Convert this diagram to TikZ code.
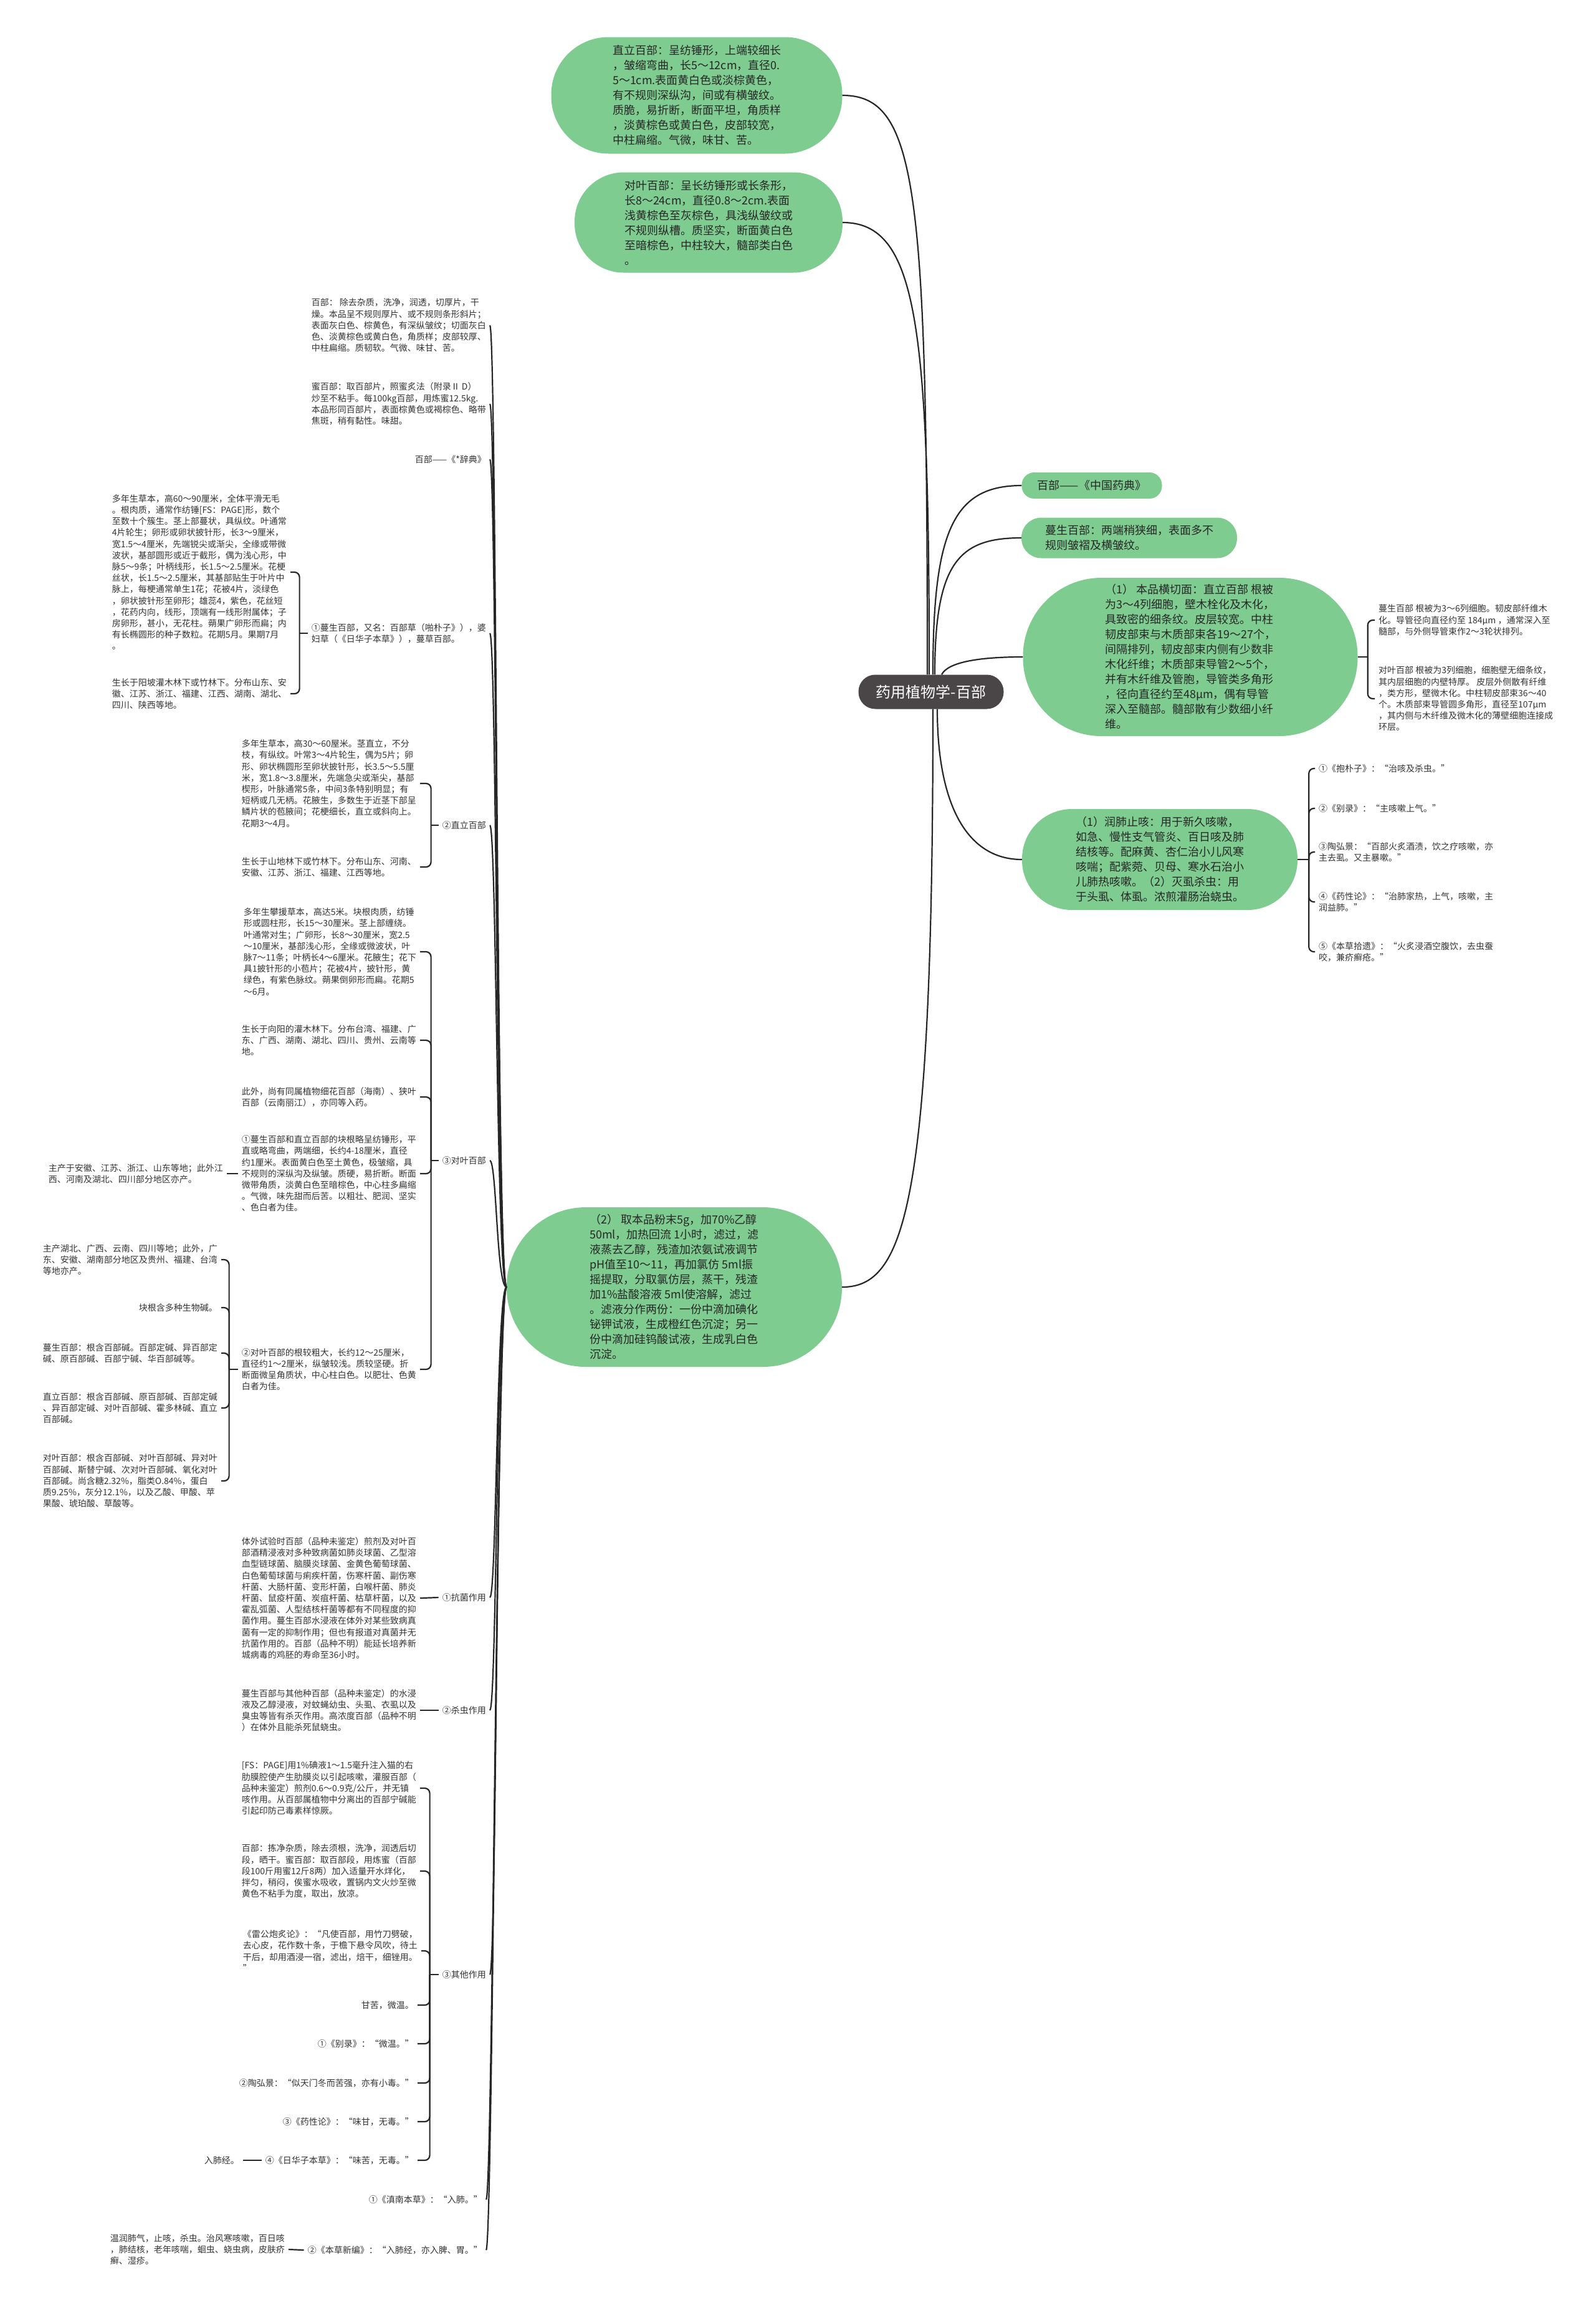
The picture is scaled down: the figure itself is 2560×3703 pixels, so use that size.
\documentclass[tikz,border=0pt]{standalone}
\usepackage{fontspec}
\setmainfont{Noto Sans CJK SC}
\usepackage{tikz}

\definecolor{pillgreen}{HTML}{7FCC91}
\definecolor{rootgray}{HTML}{4A4546}
\definecolor{ink}{HTML}{333333}

\begin{document}
\begin{tikzpicture}[x=1pt, y=-1pt,
    pill/.style={fill=pillgreen, text=black!85, font=\fontsize{18}{24}\selectfont, align=left, inner sep=0pt},
    leaf/.style={text=ink, font=\fontsize{14}{18.2}\selectfont, align=left, inner xsep=6pt, inner ysep=0pt},
    conn/.style={draw=black!85, line width=2.2pt},
    bracketline/.style={conn, rounded corners=8pt}]

    \path[use as bounding box, fill=white] (0,0) rectangle (2560,3703);

    % Root
    \node[fill=rootgray, text=white, font=\fontsize{24}{28}\selectfont, minimum width=233pt,
        minimum height=55pt, rounded corners=27pt, inner sep=0pt] (yaobu) at (1494,1110) {药用植物学-百部};

    % Green branches
    \node[pill, minimum width=467pt, minimum height=187pt, rounded corners=92pt] (zhili) at (1118,153)
        {直立百部：呈纺锤形，上端较细长\\，皱缩弯曲，长5～12cm，直径0.\\5～1cm.表面黄白色或淡棕黄色，\\有不规则深纵沟，间或有横皱纹。\\质脆，易折断，断面平坦，角质样\\，淡黄棕色或黄白色，皮部较宽，\\中柱扁缩。气微，味甘、苦。};
    \node[pill, minimum width=430pt, minimum height=161pt, rounded corners=79pt] (duiye) at (1137,357)
        {对叶百部：呈长纺锤形或长条形，\\长8～24cm，直径0.8～2cm.表面\\浅黄棕色至灰棕色，具浅纵皱纹或\\不规则纵槽。质坚实，断面黄白色\\至暗棕色，中柱较大，髓部类白色\\。};
    \node[pill, minimum width=225pt, minimum height=42pt, rounded corners=20pt] (yaodian) at (1752,779)
        {百部——《中国药典》};
    \node[pill, minimum width=346pt, minimum height=65pt, rounded corners=32pt] (mansheng) at (1812,863)
        {蔓生百部：两端稍狭细，表面多不\\规则皱褶及横皱纹。};
    \node[pill, minimum width=537pt, minimum height=254pt, rounded corners=126pt] (hengqie) at (1910,1054)
        {（1） 本品横切面：直立百部 根被\\为3～4列细胞，壁木栓化及木化，\\具致密的细条纹。皮层较宽。中柱\\韧皮部束与木质部束各19～27个，\\间隔排列，韧皮部束内侧有少数非\\木化纤维；木质部束导管2～5个，\\并有木纤维及管胞，导管类多角形\\，径向直径约至48μm，偶有导管\\深入至髓部。髓部散有少数细小纤\\维。};
    \node[pill, minimum width=442pt, minimum height=162pt, rounded corners=80pt] (gongxiao) at (1861,1379)
        {（1）润肺止咳：用于新久咳嗽，\\如急、慢性支气管炎、百日咳及肺\\结核等。配麻黄、杏仁治小儿风寒\\咳喘；配紫菀、贝母、寒水石治小\\儿肺热咳嗽。（2）灭虱杀虫：用\\于头虱、体虱。浓煎灌肠治蛲虫。};
    \node[pill, minimum width=538pt, minimum height=256pt, rounded corners=127pt] (jianbie) at (1082,2065)
        {（2） 取本品粉末5g，加70\%乙醇\\50ml，加热回流 1小时，滤过，滤\\液蒸去乙醇，残渣加浓氨试液调节\\pH值至10～11，再加氯仿 5ml振\\摇提取，分取氯仿层，蒸干，残渣\\加1\%盐酸溶液 5ml使溶解，滤过\\。滤液分作两份：一份中滴加碘化\\铋钾试液，生成橙红色沉淀；另一\\份中滴加硅钨酸试液，生成乳白色\\沉淀。};

    % Right leaves
    \node[leaf, anchor=west] (heng1) at (2206,995)
        {蔓生百部 根被为3～6列细胞。韧皮部纤维木\\化。导管径向直径约至 184μm ，通常深入至\\髓部，与外侧导管束作2～3轮状排列。};
    \node[leaf, anchor=west] (heng2) at (2206,1121)
        {对叶百部 根被为3列细胞，细胞壁无细条纹，\\其内层细胞的内壁特厚。 皮层外侧散有纤维\\，类方形，壁微木化。中柱韧皮部束36～40\\个。木质部束导管圆多角形，直径至107μm\\，其内侧与木纤维及微木化的薄壁细胞连接成\\环层。};
    \node[leaf, anchor=west] (gong1) at (2110,1233) {①《抱朴子》：“治咳及杀虫。”};
    \node[leaf, anchor=west] (gong2) at (2110,1297) {②《别录》：“主咳嗽上气。”};
    \node[leaf, anchor=west] (gong3) at (2110,1367) {③陶弘景：“百部火炙酒渍，饮之疗咳嗽，亦\\主去虱。又主暴嗽。”};
    \node[leaf, anchor=west] (gong4) at (2110,1447) {④《药性论》：“治肺家热，上气，咳嗽，主\\润益肺。”};
    \node[leaf, anchor=west] (gong5) at (2110,1527) {⑤《本草拾遗》：“火炙浸酒空腹饮，去虫蚕\\咬，兼疥癣疮。”};

    % Left leaves
    \node[leaf, anchor=east] (yinpian) at (786,522)
        {百部： 除去杂质，洗净，润透，切厚片，干\\燥。本品呈不规则厚片、或不规则条形斜片；\\表面灰白色、棕黄色，有深纵皱纹；切面灰白\\色、淡黄棕色或黄白色，角质样；皮部较厚、\\中柱扁缩。质韧软。气微、味甘、苦。};
    \node[leaf, anchor=east] (mibaibu) at (786,648)
        {蜜百部：取百部片，照蜜炙法（附录Ⅱ D）\\炒至不粘手。每100kg百部，用炼蜜12.5kg.\\本品形同百部片，表面棕黄色或褐棕色、略带\\焦斑，稍有黏性。味甜。};
    \node[leaf, anchor=east] (cidian) at (786,737) {百部——《*辞典》};

    \node[leaf, anchor=east] (man) at (786,1016)
        {①蔓生百部，又名：百部草（啪朴子》），婆\\妇草（《日华子本草》），蔓草百部。};
    \node[leaf, anchor=east] (man1) at (466,918)
        {多年生草本，高60～90厘米，全体平滑无毛\\。根肉质，通常作纺锤[FS：PAGE]形，数个\\至数十个簇生。茎上部蔓状，具纵纹。叶通常\\4片轮生；卵形或卵状披针形，长3～9厘米，\\宽1.5～4厘米，先端锐尖或渐尖，全缘或带微\\波状，基部圆形或近于截形，偶为浅心形，中\\脉5～9条；叶柄线形，长1.5～2.5厘米。花梗\\丝状，长1.5～2.5厘米，其基部贴生于叶片中\\脉上，每梗通常单生1花；花被4片，淡绿色\\，卵状披针形至卵形；雄蕊4，紫色，花丝短\\，花药内向，线形，顶端有一线形附属体；子\\房卵形，甚小，无花柱。蒴果广卵形而扁；内\\有长椭圆形的种子数粒。花期5月。果期7月\\。};
    \node[leaf, anchor=east] (man2) at (466,1113)
        {生长于阳坡灌木林下或竹林下。分布山东、安\\徽、江苏、浙江、福建、江西、湖南、湖北、\\四川、陕西等地。};

    \node[leaf, anchor=east] (zhi) at (786,1324) {②直立百部};
    \node[leaf, anchor=east] (zhi1) at (674,1257)
        {多年生草本，高30～60屋米。茎直立，不分\\枝，有纵纹。叶常3～4片轮生，偶为5片；卵\\形、卵状椭圆形至卵状披针形，长3.5～5.5厘\\米，宽1.8～3.8厘米，先端急尖或渐尖，基部\\楔形，叶脉通常5条，中间3条特别明显；有\\短柄或几无柄。花腋生，多数生于近茎下部呈\\鳞片状的苞腋间；花梗细长，直立或斜向上。\\花期3～4月。};
    \node[leaf, anchor=east] (zhi2) at (674,1391)
        {生长于山地林下或竹林下。分布山东、河南、\\安徽、江苏、浙江、福建、江西等地。};

    \node[leaf, anchor=east] (dui) at (786,1862) {③对叶百部};
    \node[leaf, anchor=east] (dui1) at (674,1527)
        {多年生攀援草本，高达5米。块根肉质，纺锤\\形或圆柱形，长15～30厘米。茎上部缠绕。\\叶通常对生；广卵形，长8～30厘米，宽2.5\\～10厘米，基部浅心形，全缘或微波状，叶\\脉7～11条；叶柄长4～6厘米。花腋生；花下\\具1披针形的小苞片；花被4片，披针形，黄\\绿色，有紫色脉纹。蒴果倒卵形而扁。花期5\\～6月。};
    \node[leaf, anchor=east] (dui2) at (674,1669)
        {生长于向阳的灌木林下。分布台湾、福建、广\\东、广西、湖南、湖北、四川、贵州、云南等\\地。};
    \node[leaf, anchor=east] (dui3) at (674,1760)
        {此外，尚有同属植物细花百部（海南）、狭叶\\百部（云南丽江），亦同等入药。};
    \node[leaf, anchor=east] (dui4) at (674,1883)
        {①蔓生百部和直立百部的块根略呈纺锤形，平\\直或略弯曲，两端细，长约4-18厘米，直径\\约1厘米。表面黄白色至土黄色，极皱缩，具\\不规则的深纵沟及纵皱。质硬，易折断。断面\\微带角质，淡黄白色至暗棕色，中心柱多扁缩\\。气微，味先甜而后苦。以粗壮、肥润、坚实\\、色白者为佳。};
    \node[leaf, anchor=east] (chandi) at (364,1883)
        {主产于安徽、江苏、浙江、山东等地；此外江\\西、河南及湖北、四川部分地区亦产。};
    \node[leaf, anchor=east] (dui5) at (674,2197)
        {②对叶百部的根较粗大，长约12～25厘米，\\直径约1～2厘米，纵皱较浅。质较坚硬。折\\断面微呈角质状，中心柱白色。以肥壮、色黄\\白者为佳。};
    \node[leaf, anchor=east] (dui5a) at (355,2021)
        {主产湖北、广西、云南、四川等地；此外，广\\东、安徽、湖南部分地区及贵州、福建、台湾\\等地亦产。};
    \node[leaf, anchor=east] (dui5b) at (355,2098) {块根含多种生物碱。};
    \node[leaf, anchor=east] (dui5c) at (355,2171)
        {蔓生百部：根含百部碱。百部定碱、异百部定\\碱、原百部碱、百部宁碱、华百部碱等。};
    \node[leaf, anchor=east] (dui5d) at (355,2259)
        {直立百部：根含百部碱、原百部碱、百部定碱\\、异百部定碱、对叶百部碱、霍多林碱、直立\\百部碱。};
    \node[leaf, anchor=east] (dui5e) at (355,2376)
        {对叶百部：根含百部碱、对叶百部碱、异对叶\\百部碱、斯替宁碱、次对叶百部碱、氧化对叶\\百部碱。尚含糖2.32\%，脂类O.84\%，蛋白\\质9.25\%，灰分12.1\%，以及乙酸、甲酸、苹\\果酸、琥珀酸、草酸等。};

    \node[leaf, anchor=east] (kangjun) at (786,2563) {①抗菌作用};
    \node[leaf, anchor=east] (kangjun1) at (674,2564)
        {体外试验时百部（品种未鉴定）煎剂及对叶百\\部酒精浸液对多种致病菌如肺炎球菌、乙型溶\\血型链球菌、脑膜炎球菌、金黄色葡萄球菌、\\白色葡萄球菌与痢疾杆菌，伤寒杆菌、副伤寒\\杆菌、大肠杆菌、变形杆菌，白喉杆菌、肺炎\\杆菌、鼠疫杆菌、炭疽杆菌、枯草杆菌，以及\\霍乱弧菌、人型结核杆菌等都有不同程度的抑\\菌作用。蔓生百部水浸液在体外对某些致病真\\菌有一定的抑制作用；但也有报道对真菌并无\\抗菌作用的。百部（品种不明）能延长培养新\\城病毒的鸡胚的寿命至36小时。};
    \node[leaf, anchor=east] (shachong) at (786,2744) {②杀虫作用};
    \node[leaf, anchor=east] (shachong1) at (674,2744)
        {蔓生百部与其他种百部（品种未鉴定）的水浸\\液及乙醇浸液，对蚊蝇幼虫、头虱、衣虱以及\\臭虫等皆有杀灭作用。高浓度百部（品种不明\\）在体外且能杀死鼠蛲虫。};

    \node[leaf, anchor=east] (qita) at (786,3168) {③其他作用};
    \node[leaf, anchor=east] (qita1) at (674,2869)
        {[FS：PAGE]用1\%碘液1～1.5毫升注入猫的右\\肋膜腔使产生肋膜炎以引起咳嗽，灌服百部（\\品种未鉴定）煎剂0.6～0.9克/公斤，并无镇\\咳作用。从百部属植物中分离出的百部宁碱能\\引起印防己毒素样惊厥。};
    \node[leaf, anchor=east] (qita2) at (674,3002)
        {百部：拣净杂质，除去须根，洗净，润透后切\\段，晒干。蜜百部：取百部段，用炼蜜（百部\\段100斤用蜜12斤8两）加入适量开水烊化，\\拌匀，稍闷，俟蜜水吸收，置锅内文火炒至微\\黄色不粘手为度，取出，放凉。};
    \node[leaf, anchor=east] (qita3) at (676,3130)
        {《雷公炮炙论》：“凡使百部，用竹刀劈破，\\去心皮，花作数十条，于檐下悬令风吹，待土\\干后，却用酒浸一宿，滤出，焙干，细锉用。\\”};
    \node[leaf, anchor=east] (qita4) at (670,3217) {甘苦，微温。};
    \node[leaf, anchor=east] (qita5) at (670,3279) {①《别录》：“微温。”};
    \node[leaf, anchor=east] (qita6) at (670,3342) {②陶弘景：“似天门冬而苦强，亦有小毒。”};
    \node[leaf, anchor=east] (qita7) at (670,3404) {③《药性论》：“味甘，无毒。”};
    \node[leaf, anchor=east] (qita8) at (670,3466) {④《日华子本草》：“味苦，无毒。”};
    \node[leaf, anchor=east] (rufei) at (390,3466) {入肺经。};

    \node[leaf, anchor=east] (diannan) at (780,3529) {①《滇南本草》：“入肺。”};
    \node[leaf, anchor=east] (xinbian) at (780,3610) {②《本草新编》：“入肺经，亦入脾、胃。”};
    \node[leaf, anchor=east] (xinbian1) at (463,3609)
        {温润肺气，止咳，杀虫。治风寒咳嗽，百日咳\\，肺结核，老年咳喘，蛔虫、蛲虫病，皮肤疥\\癣、湿疹。};

    % Curves from the root
    \draw[conn] ([xshift=-6pt]yaobu.north) .. controls +(0,-780) and +(120,0) .. (zhili.east);
    \draw[conn] ([xshift=-3pt]yaobu.north) .. controls +(0,-560) and +(120,0) .. (duiye.east);
    \draw[conn] ([xshift=3pt]yaobu.north) .. controls +(0,-230) and +(-110,0) .. (yaodian.west);
    \draw[conn] ([xshift=6pt]yaobu.north) .. controls +(0,-180) and +(-100,0) .. (mansheng.west);
    \draw[conn] ([xshift=17pt]yaobu.north) .. controls +(10,-20) and +(-70,0) .. (hengqie.west);
    \draw[conn] ([xshift=10pt]yaobu.south) .. controls +(0,150) and +(-90,0) .. (gongxiao.west);
    \draw[conn] ([xshift=3pt]yaobu.south) .. controls +(0,800) and +(100,0) .. (jianbie.east);

    % Curves from test (2) to the left column
    \foreach \nm in {yinpian,mibaibu,cidian,man,zhi,dui,kangjun,shachong,qita,diannan,xinbian}
        \draw[conn] (jianbie.west) .. controls +(-16,0) and +(11,0) .. (\nm.east);

    % Brackets
    \coordinate (hq) at ([xshift=16pt]hengqie.east);
    \draw[conn] (hengqie.east) -- (hq);
    \foreach \nm in {heng1,heng2}
        \draw[bracketline] (hq) |- (\nm.west);

    \coordinate (gx) at ([xshift=18pt]gongxiao.east);
    \draw[conn] (gongxiao.east) -- (gx);
    \foreach \nm in {gong1,gong2,gong3,gong4,gong5}
        \draw[bracketline] (gx) |- (\nm.west);

    \coordinate (mb) at ([xshift=-13pt]man.west);
    \draw[conn] (man.west) -- (mb);
    \foreach \nm in {man1,man2}
        \draw[bracketline] (mb) |- (\nm.east);

    \coordinate (zb) at ([xshift=-12pt]zhi.west);
    \draw[conn] (zhi.west) -- (zb);
    \foreach \nm in {zhi1,zhi2}
        \draw[bracketline] (zb) |- (\nm.east);

    \coordinate (db) at ([xshift=-12pt]dui.west);
    \draw[conn] (dui.west) -- (db);
    \foreach \nm in {dui1,dui2,dui3,dui4,dui5}
        \draw[bracketline] (db) |- (\nm.east);

    \coordinate (d5b) at ([xshift=-14pt]dui5.west);
    \draw[conn] (dui5.west) -- (d5b);
    \foreach \nm in {dui5a,dui5b,dui5c,dui5d,dui5e}
        \draw[bracketline] (d5b) |- (\nm.east);

    \coordinate (qb) at ([xshift=-14pt]qita.west);
    \draw[conn] (qita.west) -- (qb);
    \foreach \nm in {qita1,qita2,qita3,qita4,qita5,qita6,qita7,qita8}
        \draw[bracketline] (qb) |- (\nm.east);

    % Plain links
    \draw[conn] (dui4.west) -- (chandi.east);
    \draw[conn] (kangjun.west) -- (kangjun1.east);
    \draw[conn] (shachong.west) -- (shachong1.east);
    \draw[conn] (qita8.west) -- (rufei.east);
    \draw[conn] (xinbian.west) -- (xinbian1.east);

\end{tikzpicture}
\end{document}
